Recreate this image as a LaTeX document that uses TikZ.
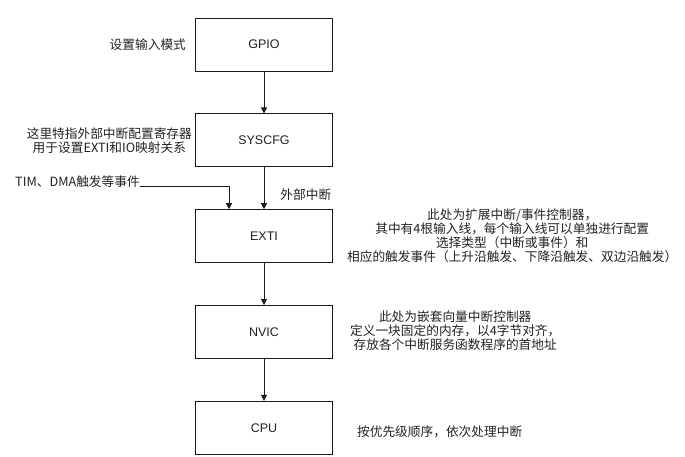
\documentclass[tikz,border=0pt]{standalone}
\usepackage{fontspec}
\setmainfont{Liberation Sans}
\newfontfamily\cjk{Noto Sans CJK SC}
\usepackage{tikz}
\usetikzlibrary{arrows.meta,positioning,calc}
\definecolor{trait}{HTML}{1A1A1A}
\definecolor{texte}{HTML}{222222}
\tikzset{
  bloc/.style={rectangle, draw=trait, line width=0.8pt, fill=white,
               minimum width=137pt, minimum height=53pt, inner sep=0pt,
               font=\fontsize{12.5}{14}\selectfont, text=texte},
  note/.style={align=center, inner sep=0pt, font=\cjk\fontsize{12.7}{14}\selectfont, text=texte},
  arr/.style={-{Triangle[length=6pt,width=6pt]}, line width=0.8pt, draw=trait},
}
\begin{document}
\begin{tikzpicture}[x=1pt, y=-1pt, node distance=42pt]
        \useasboundingbox (0,0) rectangle (685,456);
        \node[bloc] (gpio) at (264,44.5) {GPIO};
        \node[bloc, below=of gpio] (sys) {SYSCFG};
        \node[bloc, below=of sys] (exti) {EXTI};
        \node[bloc, below=of exti] (nvic) {NVIC};
        \node[bloc, below=of nvic] (cpu) {CPU};
        % textes
        \node[note, left=9pt of gpio] (ngpio) {设置输入模式};
        \node[note, left=3pt of sys] (nsys) {这里特指外部中断配置寄存器\\用于设置EXTI和IO映射关系};
        \node[note, right=14pt of exti] (nexti)
          {此处为扩展中断/事件控制器，\\其中有4根输入线，每个输入线可以单独进行配置\\选择类型（中断或事件）和\\相应的触发事件（上升沿触发、下降沿触发、双边沿触发）};
        \node[note, right=17pt of nvic, yshift=1pt] (nnvic)
          {此处为嵌套向量中断控制器\\定义一块固定的内存，以4字节对齐，\\存放各个中断服务函数程序的首地址};
        \node[note, right=24pt of cpu, yshift=-4pt] (ncpu) {按优先级顺序，依次处理中断};
        \node[note, anchor=base east] (tim) at (140,186) {TIM、DMA触发等事件};
        \coordinate (hit) at ([xshift=-35pt]exti.north);
        % fleches
        \draw[arr] (gpio) -- (sys);
        \draw[arr] (sys) -- node[note, pos=0.65, anchor=west, xshift=16pt] (ext) {外部中断} (exti);
        \draw[arr] (tim.base east) -| (hit);
        \draw[arr] (exti) -- (nvic);
        \draw[arr] (nvic) -- (cpu);
      \end{tikzpicture}
\end{document}
